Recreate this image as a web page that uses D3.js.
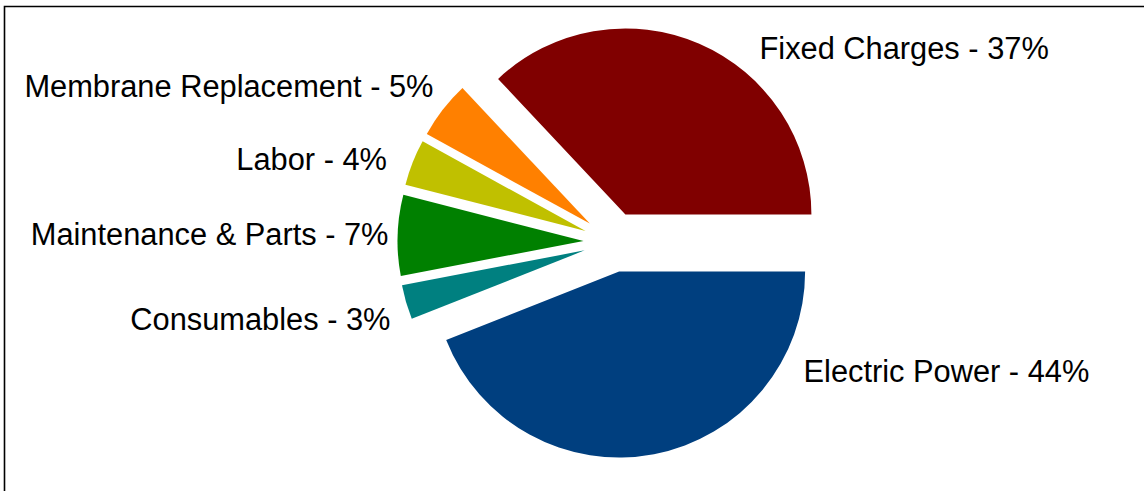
<!DOCTYPE html>
<html>
<head>
<meta charset="utf-8">
<script src="https://cdnjs.cloudflare.com/ajax/libs/d3/7.8.5/d3.min.js"></script>
<style>
  html, body { margin: 0; padding: 0; background: #fff; }
  svg { display: block; }
  text { font-family: Arial, "Liberation Sans", sans-serif; font-size: 30.8px; fill: #000; }
</style>
</head>
<body>
<svg id="chart" width="1144" height="491"></svg>
<script>
"use strict";

// Cost categories, drawn clockwise starting at 3 o'clock.
const categories = ["Electric Power", "Consumables", "Maintenance & Parts", "Labor", "Membrane Replacement", "Fixed Charges"];
const shares = [44, 3, 7, 4, 5, 37];
const colors = ["#003f7f", "#008080", "#008000", "#c0c000", "#ff8000", "#800000"];

// Label placement (Excel-style manual data labels), kept apart from the data.
const labelLayout = {
  "Electric Power":       { x: 803.5, y: 382, anchor: "start" },
  "Consumables":          { x: 390.5, y: 330, anchor: "end" },
  "Maintenance & Parts":  { x: 388.5, y: 245, anchor: "end" },
  "Labor":                { x: 387,   y: 170, anchor: "end" },
  "Membrane Replacement": { x: 433.5, y: 97,  anchor: "end" },
  "Fixed Charges":        { x: 759.5, y: 59,  anchor: "start" },
};

const W = 1144, H = 491;
const cx = 613.5, cy = 242;
const radius = 186;
const explode = 30;

const svg = d3.select("#chart");

// Frame: only the top and left edges fall inside the picture.
svg.append("path")
  .attr("d", `M4.5,${H + 5} V6.5 H${W + 5}`)
  .attr("fill", "none")
  .attr("stroke", "#000")
  .attr("stroke-width", 1.6);

const data = categories.map((c, i) => ({ name: c, value: shares[i], color: colors[i] }));

const pie = d3.pie()
  .sort(null)
  .value(d => d.value)
  .startAngle(Math.PI / 2)
  .endAngle(Math.PI / 2 + 2 * Math.PI);

const arc = d3.arc().innerRadius(0).outerRadius(radius);

const g = svg.append("g").attr("transform", `translate(${cx},${cy})`);

g.selectAll("path.slice")
  .data(pie(data))
  .join("path")
  .attr("class", "slice")
  .attr("d", arc)
  .attr("fill", d => d.data.color)
  .attr("transform", d => {
    const mid = (d.startAngle + d.endAngle) / 2;
    return `translate(${explode * Math.sin(mid)},${-explode * Math.cos(mid)})`;
  });

svg.selectAll("text.label")
  .data(data)
  .join("text")
  .attr("class", "label")
  .attr("x", d => labelLayout[d.name].x)
  .attr("y", d => labelLayout[d.name].y)
  .attr("text-anchor", d => labelLayout[d.name].anchor)
  .text(d => `${d.name} - ${d.value}%`);
</script>
</body>
</html>
